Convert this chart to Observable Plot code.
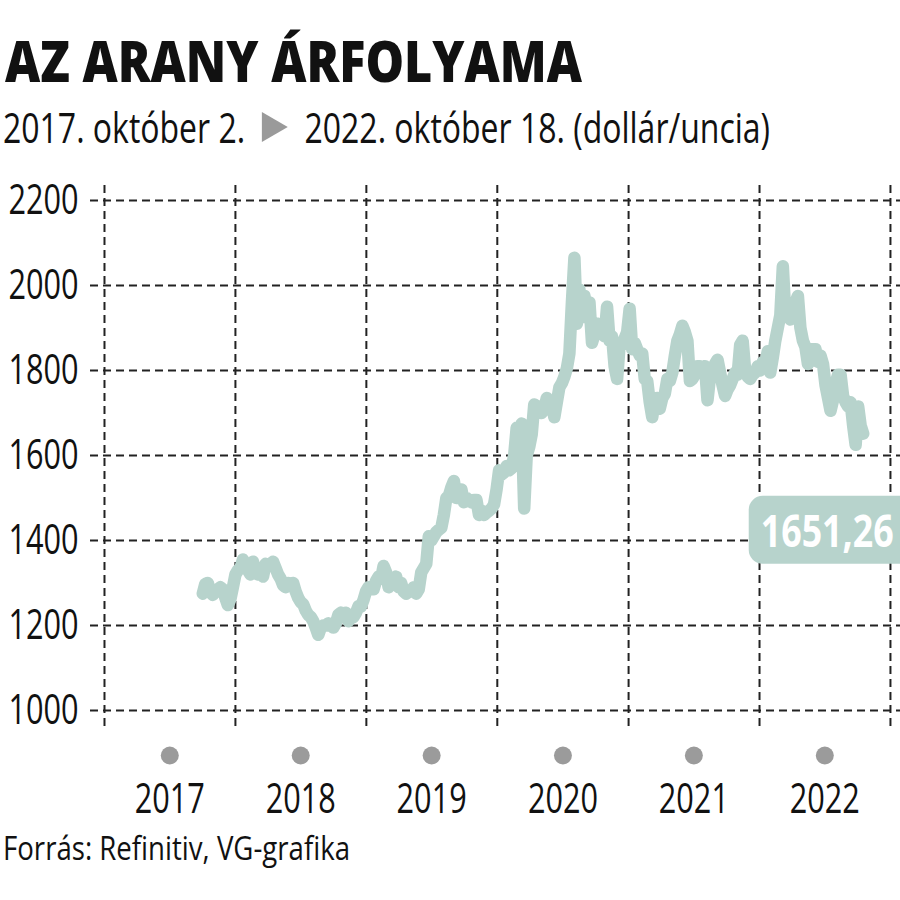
<!DOCTYPE html>
<html>
<head>
<meta charset="utf-8">
<script src="https://cdn.jsdelivr.net/npm/d3@7"></script>
<script src="https://cdn.jsdelivr.net/npm/@observablehq/plot@0.6"></script>
<style>
  html, body { margin: 0; padding: 0; background: #fff; }
  body { width: 900px; height: 900px; position: relative; overflow: hidden;
         font-family: "Open Sans", "Noto Sans", sans-serif; color: #111; }
  .fit { position: absolute; display: inline-block; line-height: 1; white-space: nowrap; transform-origin: 0 0; }
  #title { left: 5px; top: 32px; font-size: 57px; font-weight: 800; }
  #subtitle { left: 3px; top: 106px; font-size: 42px; }
  #subtitle .tri { display: inline-block; width: 0; height: 0; border-left: 34px solid #9a9a9a;
                   border-top: 15px solid transparent; border-bottom: 15px solid transparent;
                   margin: 0 22px 0 22px; vertical-align: 1px; }
  #chart { position: absolute; left: 0; top: 170px; }
  #footer { left: 3px; top: 832px; font-size: 32px; }
</style>
</head>
<body>
<div id="title" class="fit" data-w="577">AZ ARANY ÁRFOLYAMA</div>
<div id="subtitle" class="fit" data-w="767">2017. október 2.<span class="tri"></span>2022. október 18. (dollár/uncia)</div>
<div id="chart"></div>
<div id="footer" class="fit" data-w="347">Forrás: Refinitiv, VG-grafika</div>
<script>
// Weekly gold price (USD/oz), Mondays starting 2017-10-02
const gold2017 = [1275, 1298, 1300, 1278, 1272, 1280, 1285, 1290, 1285, 1265, 1248, 1262, 1290];
const gold2018 = [1320, 1330, 1335, 1355, 1345,
                  1330, 1320, 1350, 1330,
                  1320, 1325, 1315, 1345,
                  1340, 1345, 1350, 1335, 1320,
                  1310, 1295, 1290, 1300,
                  1295, 1300, 1280, 1265,
                  1255, 1250, 1235, 1225, 1220,
                  1210, 1195, 1178, 1195,
                  1200, 1200, 1205, 1200,
                  1195, 1205, 1225, 1230, 1225,
                  1230, 1210, 1220, 1220,
                  1230, 1245, 1245, 1260, 1280];
const gold2019 = [1290, 1290, 1285, 1305,
                  1315, 1310, 1340, 1325,
                  1290, 1300, 1310, 1315,
                  1290, 1300, 1280, 1275, 1280,
                  1280, 1290, 1275, 1285,
                  1325, 1335, 1345, 1410,
                  1400, 1410, 1420, 1425, 1430,
                  1460, 1500, 1505, 1525,
                  1540, 1500, 1500, 1520, 1490,
                  1500, 1495, 1490, 1495,
                  1495, 1460, 1470, 1460,
                  1465, 1470, 1475, 1485, 1520];
const gold2020 = [1565, 1555, 1560, 1575,
                  1565, 1570, 1600, 1665,
                  1640, 1675, 1475, 1600, 1620,
                  1650, 1720, 1700, 1715,
                  1700, 1710, 1735, 1710,
                  1720, 1690, 1725, 1760, 1770,
                  1785, 1805, 1840, 1960,
                  2065, 1910, 1990, 1925, 1975,
                  1940, 1960, 1865, 1885,
                  1910, 1905, 1910, 1880,
                  1950, 1870, 1880, 1810, 1780,
                  1860, 1860, 1875, 1890];
const gold2021 = [1945, 1850, 1865, 1850,
                  1835, 1840, 1780, 1775,
                  1725, 1690, 1730, 1735, 1710,
                  1735, 1745, 1780, 1775,
                  1795, 1835, 1870, 1885, 1905,
                  1890, 1870, 1775, 1780,
                  1790, 1810, 1810, 1800,
                  1810, 1730, 1785, 1790, 1815,
                  1825, 1795, 1765, 1740,
                  1755, 1765, 1780, 1795,
                  1790, 1860, 1870, 1800, 1785,
                  1780, 1790, 1795, 1810];
const gold2022 = [1800, 1820, 1815, 1845, 1795,
                  1830, 1870, 1900, 1930,
                  2045, 1930, 1935, 1920,
                  1925, 1960, 1975, 1900,
                  1870, 1855, 1815, 1850, 1850,
                  1850, 1820, 1835, 1815,
                  1765, 1735, 1705, 1730,
                  1770, 1790, 1790, 1740, 1725,
                  1715, 1725, 1670, 1625,
                  1715, 1670, 1651.26];

const yTicks = [1000, 1200, 1400, 1600, 1800, 2000, 2200];
const years = [2017, 2018, 2019, 2020, 2021, 2022];
const yearBounds = [2017, 2018, 2019, 2020, 2021, 2022, 2023];

const startDate = Date.UTC(2017, 9, 2);
const values = [...gold2017, ...gold2018, ...gold2019, ...gold2020, ...gold2021, ...gold2022];
const data = values.map((v, i) => ({date: new Date(startDate + i * 7 * 864e5), value: v}));
const last = data[data.length - 1];
const lastLabel = String(last.value).replace(".", ",");

const FONT = '"Open Sans", "Noto Sans", sans-serif';
const GREEN = "#b7d3cc";

// fit the HTML texts to the reference widths (condensed look)
document.querySelectorAll(".fit").forEach(el => {
  const w = el.getBoundingClientRect().width;
  const target = +el.dataset.w;
  el.style.transform = `scaleX(${target / w})`;
});

const chart = Plot.plot({
  width: 900,
  height: 660,
  marginLeft: 90,
  marginRight: 0,
  marginTop: 15,
  marginBottom: 100,
  style: {fontFamily: FONT, background: "transparent", overflow: "visible"},
  x: {type: "utc", domain: [new Date(Date.UTC(2016, 10, 23)), new Date(Date.UTC(2023, 0, 29))], axis: null},
  y: {domain: [953, 2235], axis: null},
  marks: [
    Plot.ruleY(yTicks, {stroke: "#222", strokeWidth: 2, strokeDasharray: "8,5"}),
    Plot.ruleX(yearBounds.map(y => new Date(Date.UTC(y, 0, 1))), {stroke: "#222", strokeWidth: 2, strokeDasharray: "8,5"}),
    Plot.text(yTicks, {y: d => d, text: d => String(d), frameAnchor: "left", dx: -12, dy: 13, textAnchor: "end", fontSize: 42, fill: "#111"}),
    Plot.dot(years, {x: d => new Date(Date.UTC(d, 6, 2)), frameAnchor: "bottom", dy: 25, r: 9, fill: "#9b9b9b", stroke: "none"}),
    Plot.text(years, {x: d => new Date(Date.UTC(d, 6, 2)), text: d => String(d), frameAnchor: "bottom", dy: 82, fontSize: 42, fill: "#111"}),
    Plot.line(data, {x: "date", y: "value", stroke: GREEN, strokeWidth: 12.5, strokeLinecap: "round", strokeLinejoin: "round", curve: "linear"}),
    Plot.text([last], {x: "date", y: "value", text: () => lastLabel, dx: -36, dy: 113, fontSize: 45, fontWeight: "bold", fill: "white"})
  ]
});
document.getElementById("chart").appendChild(chart);

// condense SVG texts horizontally around their anchor
function squeeze(t, s) {
  const tr = t.getAttribute("transform") || "";
  const hasXY = t.hasAttribute("x") || t.hasAttribute("y");
  let extra = "";
  if (hasXY) {
    const x = parseFloat(t.getAttribute("x")) || 0, y = parseFloat(t.getAttribute("y")) || 0;
    t.removeAttribute("x"); t.removeAttribute("y");
    extra = ` translate(${x},${y})`;
  }
  t.setAttribute("transform", `${tr}${extra} scale(${s},1)`);
}
let labelText = null;
chart.querySelectorAll("text").forEach(t => {
  if (t.textContent === lastLabel) { labelText = t; return; }
  squeeze(t, 0.73);
});
if (labelText) {
  const w0 = labelText.getBoundingClientRect().width;
  squeeze(labelText, 133 / w0);
  const svgBox = chart.getBoundingClientRect();
  const bb = labelText.getBoundingClientRect();
  const left = bb.left - svgBox.left;
  const cy = bb.top - svgBox.top + bb.height / 2;
  const rect = document.createElementNS("http://www.w3.org/2000/svg", "rect");
  rect.setAttribute("x", left - 12);
  rect.setAttribute("y", cy - 34);
  rect.setAttribute("width", 900 - (left - 12) + 20);
  rect.setAttribute("height", 68);
  rect.setAttribute("rx", 14);
  rect.setAttribute("fill", GREEN);
  const g = labelText.parentNode;
  g.parentNode.insertBefore(rect, g);
}
</script>
</body>
</html>
